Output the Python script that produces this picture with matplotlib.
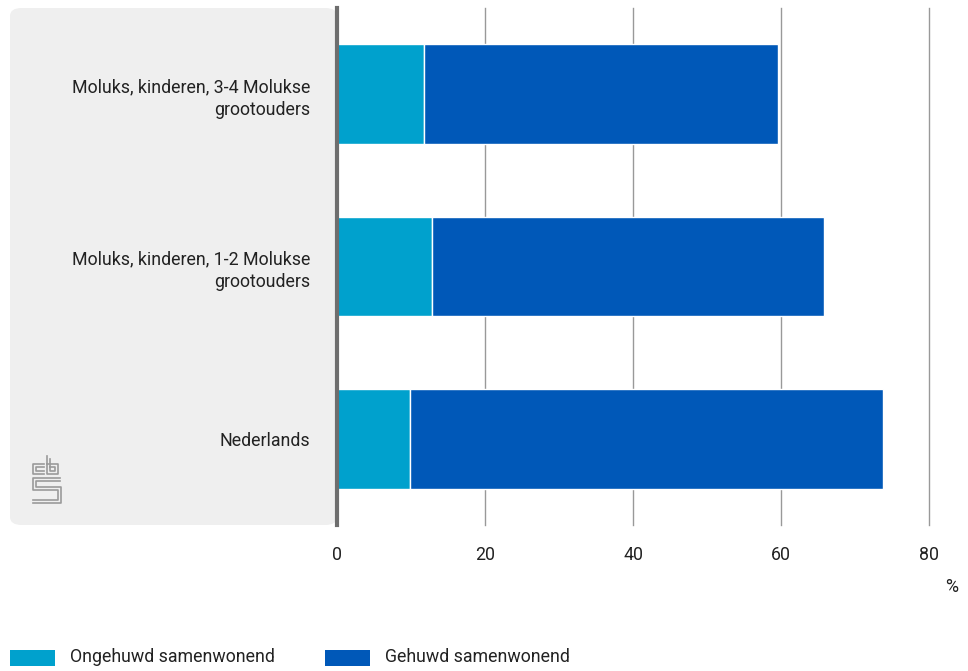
import matplotlib
matplotlib.use("Agg")
import matplotlib.pyplot as plt
from matplotlib.patches import FancyBboxPatch, Rectangle
from matplotlib import font_manager

categories = ["Moluks, kinderen, 3-4 Molukse\ngrootouders",
              "Moluks, kinderen, 1-2 Molukse\ngrootouders",
              "Nederlands"]
ongehuwd = [11.8, 12.8, 9.9]
gehuwd = [47.8, 53.0, 63.9]
series_names = ["Ongehuwd samenwonend", "Gehuwd samenwonend"]
colors = ["#00a1cd", "#0058b8"]
xticks = [0, 20, 40, 60, 80]

names = {f.name for f in font_manager.fontManager.ttflist}
fam = "Liberation Sans Narrow" if "Liberation Sans Narrow" in names else "Roboto"
plt.rcParams['font.family'] = [fam, 'DejaVu Sans']
FS = 12.8
TC = "#222222"

W, H = 968, 671
fig = plt.figure(figsize=(W/100, H/100), dpi=100)

# gray panel
panel = FancyBboxPatch((10/W, 1-525/H), (337-10)/W, (525-8)/H,
                       boxstyle="round,pad=0,rounding_size=0.012",
                       transform=fig.transFigure, facecolor="#efefef",
                       edgecolor="none", zorder=-5)
fig.patches.append(panel)

ax = fig.add_axes([337/W, 1-525/H, (929-337)/W, (525-8)/H])
ax.set_facecolor("none")
ypos = list(range(len(categories)))
ax.barh(ypos, ongehuwd, height=0.58, color=colors[0], edgecolor="white", linewidth=1, label=series_names[0], zorder=3)
ax.barh(ypos, gehuwd, left=ongehuwd, height=0.58, color=colors[1], edgecolor="white", linewidth=1, label=series_names[1], zorder=3)
ax.set_ylim(2.5, -0.5)
ax.set_xlim(0, 80)
ax.set_yticks(ypos)
ax.set_yticklabels(categories, fontsize=FS, color=TC, linespacing=1.35)
ax.set_xticks(xticks)
ax.set_xticklabels([str(t) for t in xticks], fontsize=FS, color=TC)
ax.tick_params(axis="y", length=0, pad=19)
ax.tick_params(axis="x", length=0, pad=15)
ax.grid(axis="x", color="#999999", linewidth=1, zorder=1)
for gl in ax.get_xgridlines():
    gl.set_clip_on(False)
for s in ["top", "right", "bottom"]:
    ax.spines[s].set_visible(False)
ax.spines["left"].set_color("#6e6e6e")
ax.spines["left"].set_linewidth(3)
ax.spines["left"].set_zorder(4)

fig.text(952/W, 1-587/H, "%", fontsize=FS, color=TC, ha="center", va="center")

# legend
for x0, name, c in zip([10, 325], series_names, colors):
    fig.patches.append(Rectangle((x0/W, 1-666/H), 45/W, 16/H, transform=fig.transFigure,
                                 facecolor=c, edgecolor="none"))
    fig.text((x0+60)/W, 1-657/H, name, fontsize=FS, color=TC, va="center", ha="left")

# simplified cbs logo
lc = "#9a9a9a"
def pl(xs, ys):
    fig.lines.append(plt.Line2D([x/W for x in xs], [1-y/H for y in ys], transform=fig.transFigure,
                                color=lc, linewidth=1.2))
# c
pl([44, 33, 33, 44], [464, 464, 474, 474])
pl([44, 36, 36, 44], [467, 467, 471, 471])
# b
pl([47, 47, 58, 58, 47], [456, 474, 474, 464, 464])
pl([50, 50, 55, 55, 50], [459, 471, 471, 467, 467])
# s
pl([60, 33, 33, 58, 58, 33], [478, 478, 490, 490, 500, 500])
pl([60, 36, 36, 61, 61, 33], [481, 481, 487, 487, 503, 503])

fig.savefig("out.png", dpi=100)
